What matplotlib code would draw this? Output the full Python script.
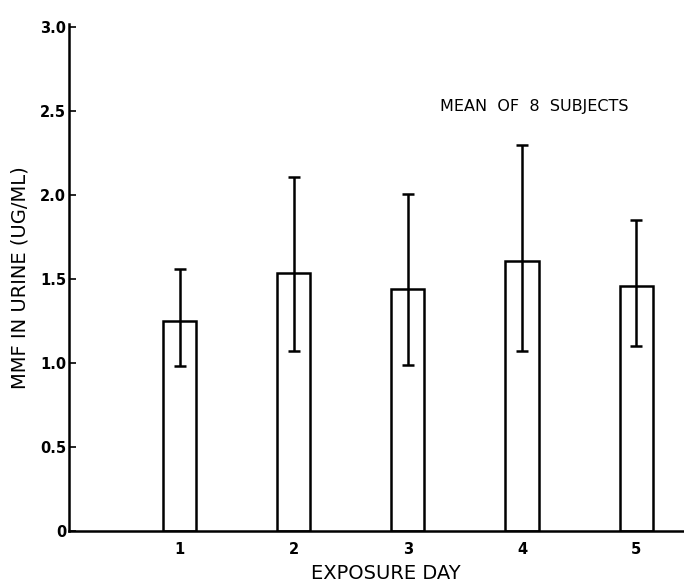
import matplotlib
matplotlib.use("Agg")
import matplotlib.pyplot as plt
import numpy as np

# Urinary MMF by exposure day, mean of 8 subjects
days = [1, 2, 3, 4, 5]
day_labels = ["1", "2", "3", "4", "5"]
mean_mmf = [1.25, 1.54, 1.44, 1.61, 1.46]
err_high = [1.56, 2.11, 2.01, 2.30, 1.85]
err_low = [0.98, 1.07, 0.99, 1.07, 1.10]
y_ticks = [0, 0.5, 1.0, 1.5, 2.0, 2.5, 3.0]
y_tick_labels = ["0", "0.5", "1.0", "1.5", "2.0", "2.5", "3.0"]

plt.rcParams["font.family"] = ["DejaVu Sans"]

fig = plt.figure(figsize=(6.84, 5.88), dpi=100)
ax = fig.add_axes([0.101, 0.097, 0.899, 0.862])

means = np.array(mean_mmf)
yerr = np.vstack([means - np.array(err_low), np.array(err_high) - means])

ax.bar(days, mean_mmf, width=0.29, facecolor="white", edgecolor="black",
       linewidth=1.8, zorder=2)
ax.errorbar(days, mean_mmf, yerr=yerr, fmt="none", ecolor="black",
            elinewidth=1.8, capsize=4.5, capthick=1.8, zorder=3)

ax.set_xlim(0.03, 5.42)
ax.set_ylim(0, 3.02)

ax.spines["top"].set_visible(False)
ax.spines["right"].set_visible(False)
ax.spines["left"].set_linewidth(1.8)
ax.spines["bottom"].set_linewidth(1.8)

ax.set_yticks(y_ticks)
ax.set_yticklabels(y_tick_labels, fontsize=10.5, fontweight="bold")
ax.tick_params(axis="y", direction="in", length=5, width=1.2, pad=2)
ax.set_xticks(days)
ax.set_xticklabels(day_labels, fontsize=10.5, fontweight="bold")
ax.tick_params(axis="x", length=0, pad=8)

ax.set_xlabel("EXPOSURE DAY", fontsize=14, labelpad=6)
ax.xaxis.set_label_coords(0.515, -0.065)
ax.set_ylabel("MMF IN URINE (UG/ML)", fontsize=14, labelpad=8)

ax.text(4.11, 2.53, "MEAN  OF  8  SUBJECTS", fontsize=11.5, ha="center",
        va="center")

fig.savefig("out.png", dpi=100)
